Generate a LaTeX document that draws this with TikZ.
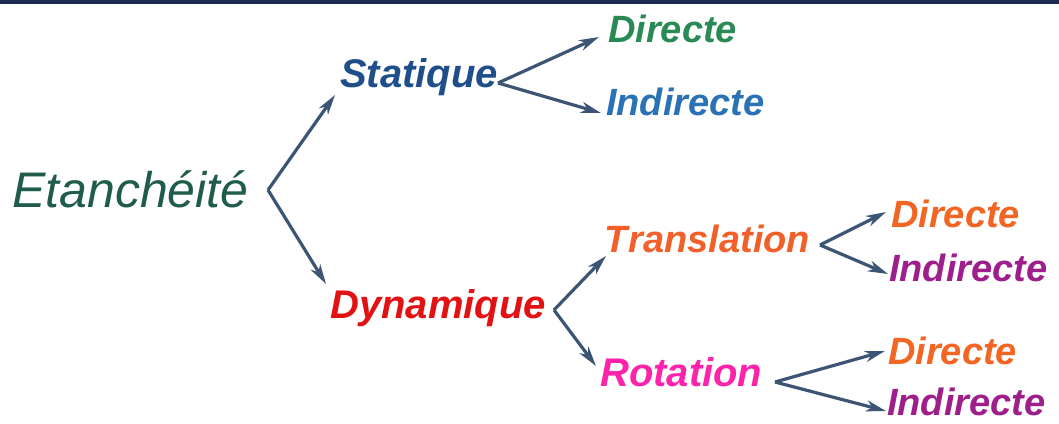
\documentclass[tikz,border=0pt]{standalone}
\usepackage{fontspec}
\setmainfont{Liberation Sans}
\usetikzlibrary{arrows.meta}
\definecolor{navy}{HTML}{1B2A4E}
\definecolor{arrowc}{HTML}{3D5575}
\definecolor{etanc}{HTML}{1F5C4C}
\definecolor{statc}{HTML}{1F4F8A}
\definecolor{dirgreen}{HTML}{2A8A55}
\definecolor{indblue}{HTML}{2A72B5}
\definecolor{dynred}{HTML}{E31212}
\definecolor{transc}{HTML}{F2602A}
\definecolor{rotc}{HTML}{FF22AA}
\definecolor{dirorange}{HTML}{F26522}
\definecolor{indpurple}{HTML}{9E1F8C}
\tikzset{
  lbl/.style={anchor=base west, inner sep=0pt, font=\fontsize{40}{42}\selectfont\bfseries\itshape},
  leaf/.style={anchor=base west, inner sep=0pt, font=\fontsize{38}{40}\selectfont\bfseries\itshape},
  arr/.style={draw=arrowc, line width=3.2pt, -{Stealth[length=20pt,width=11pt,inset=6pt]}}
}
\begin{document}
\begin{tikzpicture}[x=1pt,y=-1pt]
\useasboundingbox (0,0) rectangle (1059,423);
\fill[white] (0,0) rectangle (1059,423);
\fill[navy] (0,0) rectangle (1059,4);
% nodes
\node[anchor=base west, inner sep=0pt, font=\fontsize{50}{52}\selectfont\itshape, text=etanc] (etan) at (12,207) {Etanchéité};
\node[lbl, text=statc] (stat) at (340,87) {Statique};
\node[leaf, text=dirgreen] (sd) at (608,42) {Directe};
\node[leaf, text=indblue] (si) at (606,115) {Indirecte};
\node[lbl, text=dynred] (dyn) at (330,318) {Dynamique};
\node[leaf, text=transc] (trans) at (604,252) {T\kern1pt ranslation};
\node[lbl, text=rotc] (rot) at (600,386) {Rotation};
\node[leaf, text=dirorange] (td) at (891,227) {Directe};
\node[leaf, text=indpurple] (ti) at (889,281) {Indirecte};
\node[leaf, text=dirorange] (rd) at (888,364) {Directe};
\node[leaf, text=indpurple] (ri) at (887,415) {Indirecte};
% branch vertices and tips
\coordinate (v1) at (268,190);
\coordinate (t1a) at (335,95);
\coordinate (t1b) at (326,284);
\coordinate (v2) at (498,83);
\coordinate (t2a) at (599,37);
\coordinate (t2b) at (601,113);
\coordinate (v3) at (554,310);
\coordinate (t3a) at (606,256);
\coordinate (t3b) at (596,366);
\coordinate (v4) at (820,245);
\coordinate (t4a) at (886,212);
\coordinate (t4b) at (888,274);
\coordinate (v5) at (775,382);
\coordinate (t5a) at (885,351);
\coordinate (t5b) at (886,411);
% connectors
\draw[arr] (v1) -- (t1a);
\draw[arr] (v1) -- (t1b);
\draw[arr] (v2) -- (t2a);
\draw[arr] (v2) -- (t2b);
\draw[arr] (v3) -- (t3a);
\draw[arr] (v3) -- (t3b);
\draw[arr] (v4) -- (t4a);
\draw[arr] (v4) -- (t4b);
\draw[arr] (v5) -- (t5a);
\draw[arr] (v5) -- (t5b);
\end{tikzpicture}
\end{document}
